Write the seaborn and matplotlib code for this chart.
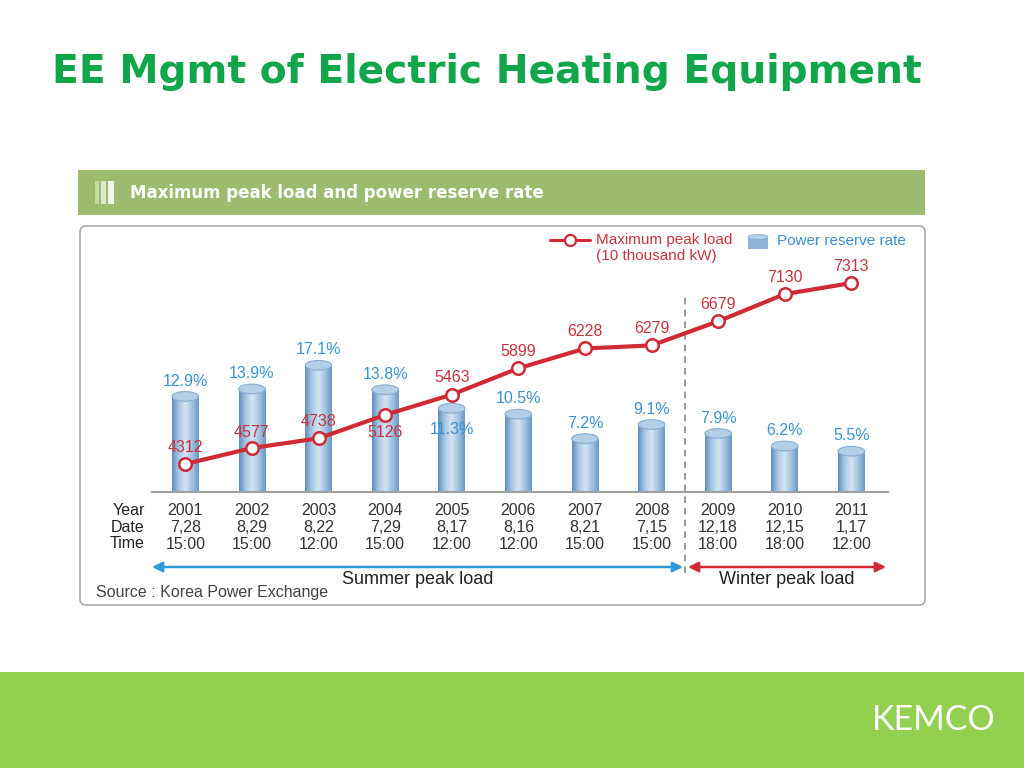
import numpy as np
import pandas as pd
import matplotlib.pyplot as plt
import seaborn as sns
from matplotlib.patches import Rectangle, Ellipse, FancyBboxPatch
from matplotlib.colors import LinearSegmentedColormap

# data
years = ['2001', '2002', '2003', '2004', '2005', '2006', '2007', '2008', '2009', '2010', '2011']
dates = ['7,28', '8,29', '8,22', '7,29', '8,17', '8,16', '8,21', '7,15', '12,18', '12,15', '1,17']
times = ['15:00', '15:00', '12:00', '15:00', '12:00', '12:00', '15:00', '15:00', '18:00', '18:00', '12:00']
reserve_rate = [12.9, 13.9, 17.1, 13.8, 11.3, 10.5, 7.2, 9.1, 7.9, 6.2, 5.5]
peak_load = [4312, 4577, 4738, 5126, 5463, 5899, 6228, 6279, 6679, 7130, 7313]

# label offsets in points (layout only)
rate_dy = [11, 11, 11, 11, -15, 11, 11, 11, 11, 11, 11]
load_dy = [12, 11, 12, -13, 12, 12, 12, 12, 12, 12, 12]

red = '#D02A35'
red_txt = '#C9343C'
blue_txt = '#3A92D2'

df = pd.DataFrame({'year': years, 'rate': reserve_rate})

sns.set_style('white')
plt.rcParams['font.family'] = ['Liberation Sans', 'DejaVu Sans']

fig = plt.figure(figsize=(10.24, 7.68), dpi=100)

# background / slide decoration in pixel coords
bg = fig.add_axes([0, 0, 1, 1])
bg.set_xlim(0, 1024)
bg.set_ylim(768, 0)
bg.axis('off')
bg.set_zorder(0)

bg.text(52, 72, 'EE Mgmt of Electric Heating Equipment', fontsize=28.3, fontweight='bold',
        color='#12A64A', family='DejaVu Sans', va='center')
bg.add_patch(Rectangle((78, 170), 847, 45, color='#9DBB6E', lw=0))
for x0, w, c in [(95, 4, '#C6DAA8'), (101, 5, '#DCE8CB'), (108, 6, '#F2F7EA')]:
    bg.add_patch(Rectangle((x0, 181), w, 23, color=c, lw=0))
bg.text(130, 193, 'Maximum peak load and power reserve rate', color='white', fontweight='bold',
        fontsize=12, va='center', family='DejaVu Sans')
bg.add_patch(FancyBboxPatch((80, 226), 845, 379, boxstyle='round,pad=0,rounding_size=6',
                            fc='white', ec='#AAAAAA', lw=1.2))
bg.add_patch(Rectangle((0, 672), 1024, 96, color='#92D050', lw=0))
bg.text(934, 720, 'KEMCO', color='white', fontsize=24.5, family='Lato', ha='center', va='center')

# legend
bg.plot([550, 590], [240, 240], color=red, lw=2.2)
bg.plot(570, 240, 'o', mfc='white', mec=red, ms=8, mew=1.6)
bg.text(596, 240, 'Maximum peak load', color=red_txt, fontsize=11, va='center')
bg.text(596, 256, '(10 thousand kW)', color=red_txt, fontsize=11, va='center')
bg.add_patch(Rectangle((748, 237), 20, 12, fc='#8DB4D6', lw=0))
bg.add_patch(Ellipse((758, 237), 20, 5, fc='#B5D0E8', ec='#86AED3', lw=0.6))
bg.text(777, 241, 'Power reserve rate', color=blue_txt, fontsize=11, va='center')

# summer / winter split
bg.plot([685, 685], [298, 578], color='#888888', lw=1.2, ls=(0, (4, 3)))
bg.annotate('', xy=(152, 567), xytext=(683, 567),
            arrowprops=dict(arrowstyle='<|-|>,head_length=0.6,head_width=0.3', color='#2E9BD6',
                            lw=1.8, shrinkA=0, shrinkB=0))
bg.annotate('', xy=(688, 567), xytext=(886, 567),
            arrowprops=dict(arrowstyle='<|-|>,head_length=0.6,head_width=0.3', color=red,
                            lw=1.8, shrinkA=0, shrinkB=0))
bg.text(418, 579, 'Summer peak load', ha='center', va='center', fontsize=13, color='#222222')
bg.text(787, 579, 'Winter peak load', ha='center', va='center', fontsize=13, color='#222222')
bg.text(96, 592, 'Source : Korea Power Exchange', ha='left', va='center', fontsize=11.5, color='#444444')
bg.text(145, 527, 'Year\nDate\nTime', ha='right', va='center', multialignment='right',
        fontsize=11.5, linespacing=1.15, color='#222222')

# chart
ax = fig.add_axes([152 / 1024, (768 - 492) / 768, 736 / 1024, 252 / 768])
ax.set_zorder(2)
ax.patch.set_alpha(0)
sns.barplot(data=df, x='year', y='rate', color='#8DB4D6', saturation=1, width=0.4, ax=ax)

cyl = LinearSegmentedColormap.from_list('cyl', ['#5F8FBB', '#A9C8E4', '#D4E5F3', '#A3C3E0', '#6A99C4'])
grad = np.linspace(0, 1, 64).reshape(1, -1)
for p in list(ax.patches):
    x0, w, h = p.get_x(), p.get_width(), p.get_height()
    im = ax.imshow(grad, extent=[x0, x0 + w, 0, h], aspect='auto', cmap=cyl, zorder=p.get_zorder() + 0.1)
    im.set_clip_path(p)
    ax.add_patch(Ellipse((x0 + w / 2, h), w, 1.3, fc='#B3CEE7', ec='#86AED3', lw=0.8,
                         zorder=p.get_zorder() + 0.2))

for i, (v, dy) in enumerate(zip(reserve_rate, rate_dy)):
    ax.annotate(f'{v}%', (i, v), xytext=(0, dy), textcoords='offset points',
                ha='center', va='center', color=blue_txt, fontsize=11.5, zorder=5)

ax.set_xlim(-0.5, 10.55)
ax.set_ylim(0, 34)
ax.set_xticks(range(len(years)))
ax.set_xticklabels([f'{y}\n{d}\n{t}' for y, d, t in zip(years, dates, times)])
for lbl in ax.get_xticklabels():
    lbl.set_linespacing(1.15)
ax.set_xticks(np.arange(-0.5, len(years), 1), minor=True)
ax.tick_params(axis='x', which='major', length=0, pad=8, labelsize=11.5, labelcolor='#333333')
ax.tick_params(axis='x', which='minor', direction='in', length=6, color='#A0A0A0', width=1)
ax.set_yticks([])
ax.set_xlabel('')
ax.set_ylabel('')
for s in ['left', 'right', 'top']:
    ax.spines[s].set_visible(False)
ax.spines['bottom'].set_color('#A0A0A0')
ax.spines['bottom'].set_linewidth(1.5)

ax2 = ax.twinx()
ax2.set_zorder(3)
ax2.patch.set_alpha(0)
sns.lineplot(x=np.arange(len(peak_load)), y=peak_load, ax=ax2, color=red, lw=3, marker='o',
             markersize=9, markerfacecolor='white', markeredgecolor=red, markeredgewidth=1.8)
for i, (v, dy) in enumerate(zip(peak_load, load_dy)):
    ax2.annotate(f'{v}', (i, v), xytext=(0, dy), textcoords='offset points',
                 ha='center', va='center', color=red_txt, fontsize=11.5)
ax2.set_xlim(-0.5, 10.55)
ax2.set_ylim(3848, 8027)
ax2.set_yticks([])
for s in ax2.spines.values():
    s.set_visible(False)

fig.savefig('out.png', dpi=100)
